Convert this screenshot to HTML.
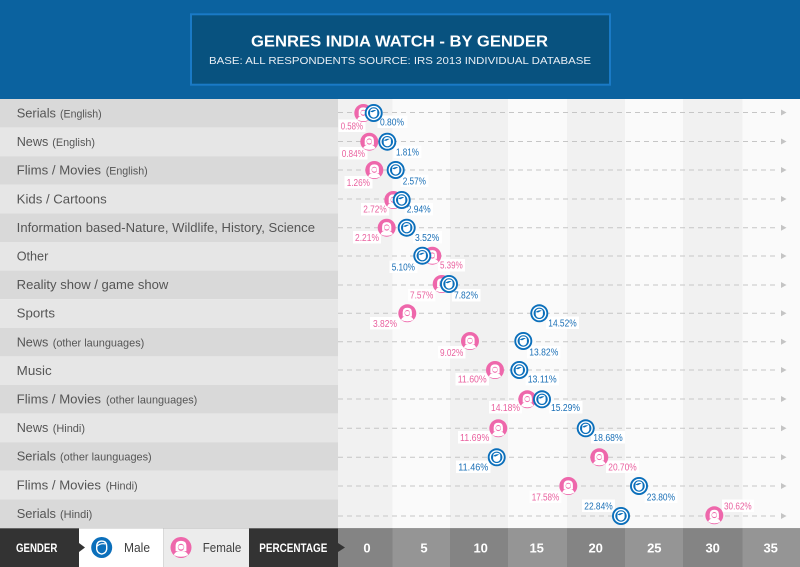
<!DOCTYPE html>
<html>
<head>
<meta charset="utf-8">
<style>
html,body{margin:0;padding:0;background:#fff;}
svg{display:block;}
text{font-family:"Liberation Sans",Arial,sans-serif;}
</style>
</head>
<body>
<svg width="800" height="567" viewBox="0 0 800 567" xmlns="http://www.w3.org/2000/svg">
<defs>
  <g id="male">
    <circle r="9" fill="#0b6fbb"/>
    <circle r="6.4" fill="none" stroke="#fff" stroke-width="1.4"/>
    <path d="M-3.6,-1.8 Q-3.2,-4.6 0,-4.6 Q3.4,-4.6 3.6,-1.6 L3.6,1.4 Q3,4.2 0,4.6 Q-3,4.2 -3.6,1.4 Z" fill="#fff"/>
    <path d="M-3.6,-1.2 Q-1,-3.6 2.6,-2.8 L-1.2,-0.8 Z" fill="#0b6fbb"/>
  </g>
  <g id="female">
    <circle r="9" fill="#ee67ab"/>
    <path d="M-4.6,3.2 L-4.6,-1.2 Q-4.6,-5.6 0,-5.6 Q4.6,-5.6 4.6,-1.2 L4.6,3.2 Z" fill="#fff"/>
    <ellipse cx="0" cy="-0.2" rx="2.7" ry="3.1" fill="#ee67ab"/>
    <path d="M-2.2,-1.5 Q0,-3.2 2.2,-1.5 L2.2,0.8 Q0,2.8 -2.2,0.8 Z" fill="#fff"/>
    <path d="M-6.2,6.6 Q-5,3.4 -1.6,3 L1.6,3 Q5,3.4 6.2,6.6 Q0,9.6 -6.2,6.6 Z" fill="#fff"/>
  </g>
  <g id="maleL">
    <circle r="10.5" fill="#0b6fbb"/>
    <path d="M-5,-1.5 Q-4.6,-6.4 0,-6.4 Q4.8,-6.4 5,-1.4 L5,1.8 Q4.2,6 0,6.6 Q-4.2,6 -5,1.8 Z" fill="none" stroke="#fff" stroke-width="1.4"/>
    <path d="M-5,-1 Q-1.4,-4.6 3.6,-3.6" fill="none" stroke="#fff" stroke-width="1.2"/>
  </g>
  <g id="femaleL">
    <circle r="10.5" fill="#ee67ab"/>
    <path d="M-5.4,3.6 L-5.4,-1.4 Q-5.4,-6.6 0,-6.6 Q5.4,-6.6 5.4,-1.4 L5.4,3.6 Z" fill="#fff"/>
    <ellipse cx="0" cy="-0.2" rx="3.2" ry="3.6" fill="#ee67ab"/>
    <path d="M-2.6,-1.6 Q0,-3.6 2.6,-1.6 L2.6,0.9 Q0,3.2 -2.6,0.9 Z" fill="#fff"/>
    <path d="M-7.2,7.6 Q-6,4 -1.8,3.6 L1.8,3.6 Q6,4 7.2,7.6 Q0,11 -7.2,7.6 Z" fill="#fff"/>
  </g>
</defs>

<!-- header -->
<rect x="0" y="0" width="800" height="99" fill="#0b629f"/>
<rect x="191" y="14.3" width="419" height="70.4" fill="#08527f" stroke="#1a7ac6" stroke-width="2"/>
<text x="251" y="46.5" font-size="16" font-weight="bold" fill="#fff" textLength="297" lengthAdjust="spacingAndGlyphs">GENRES INDIA WATCH - BY GENDER</text>
<text x="209" y="64" font-size="10.5" fill="#e8eef4" textLength="382" lengthAdjust="spacingAndGlyphs">BASE: ALL RESPONDENTS SOURCE: IRS 2013 INDIVIDUAL DATABASE</text>

<!-- left label rows -->
<g>
<rect x="0" y="99" width="338" height="28.6" fill="#d9d9d9"/>
<rect x="0" y="127.6" width="338" height="28.6" fill="#e6e6e6"/>
<rect x="0" y="156.2" width="338" height="28.6" fill="#d9d9d9"/>
<rect x="0" y="184.8" width="338" height="28.6" fill="#e6e6e6"/>
<rect x="0" y="213.4" width="338" height="28.6" fill="#d9d9d9"/>
<rect x="0" y="242" width="338" height="28.6" fill="#e6e6e6"/>
<rect x="0" y="270.6" width="338" height="28.6" fill="#d9d9d9"/>
<rect x="0" y="299.2" width="338" height="28.6" fill="#e6e6e6"/>
<rect x="0" y="327.8" width="338" height="28.6" fill="#d9d9d9"/>
<rect x="0" y="356.4" width="338" height="28.6" fill="#e6e6e6"/>
<rect x="0" y="385" width="338" height="28.6" fill="#d9d9d9"/>
<rect x="0" y="413.6" width="338" height="28.6" fill="#e6e6e6"/>
<rect x="0" y="442.2" width="338" height="28.6" fill="#d9d9d9"/>
<rect x="0" y="470.8" width="338" height="28.6" fill="#e6e6e6"/>
<rect x="0" y="499.4" width="338" height="29" fill="#d9d9d9"/>
</g>
<g fill="#555555">
<text x="16.7" y="117.5" font-size="13" textLength="39.3" lengthAdjust="spacingAndGlyphs">Serials</text>
<text x="60" y="117.5" font-size="11" textLength="41.7" lengthAdjust="spacingAndGlyphs">(English)</text>
<text x="16.7" y="146.1" font-size="13" textLength="31.6" lengthAdjust="spacingAndGlyphs">News</text>
<text x="52.3" y="146.1" font-size="11" textLength="42.7" lengthAdjust="spacingAndGlyphs">(English)</text>
<text x="16.7" y="174.7" font-size="13" textLength="84.3" lengthAdjust="spacingAndGlyphs">Flims / Movies</text>
<text x="105.7" y="174.7" font-size="11" textLength="42" lengthAdjust="spacingAndGlyphs">(English)</text>
<text x="16.7" y="203.3" font-size="13" textLength="90" lengthAdjust="spacingAndGlyphs">Kids / Cartoons</text>
<text x="16.7" y="231.9" font-size="13" textLength="298.3" lengthAdjust="spacingAndGlyphs">Information based-Nature, Wildlife, History, Science</text>
<text x="16.7" y="260.5" font-size="13" textLength="31.6" lengthAdjust="spacingAndGlyphs">Other</text>
<text x="16.7" y="289.1" font-size="13" textLength="151.6" lengthAdjust="spacingAndGlyphs">Reality show / game show</text>
<text x="16.7" y="317.7" font-size="13" textLength="38.3" lengthAdjust="spacingAndGlyphs">Sports</text>
<text x="16.7" y="346.3" font-size="13" textLength="31.6" lengthAdjust="spacingAndGlyphs">News</text>
<text x="52.7" y="346.3" font-size="11" textLength="91.6" lengthAdjust="spacingAndGlyphs">(other launguages)</text>
<text x="16.7" y="374.9" font-size="13" textLength="35" lengthAdjust="spacingAndGlyphs">Music</text>
<text x="16.7" y="403.5" font-size="13" textLength="84.3" lengthAdjust="spacingAndGlyphs">Flims / Movies</text>
<text x="106" y="403.5" font-size="11" textLength="91.3" lengthAdjust="spacingAndGlyphs">(other launguages)</text>
<text x="16.7" y="432.1" font-size="13" textLength="31.6" lengthAdjust="spacingAndGlyphs">News</text>
<text x="52.7" y="432.1" font-size="11" textLength="32.3" lengthAdjust="spacingAndGlyphs">(Hindi)</text>
<text x="16.7" y="460.7" font-size="13" textLength="39.3" lengthAdjust="spacingAndGlyphs">Serials</text>
<text x="60" y="460.7" font-size="11" textLength="91.7" lengthAdjust="spacingAndGlyphs">(other launguages)</text>
<text x="16.7" y="489.3" font-size="13" textLength="84.3" lengthAdjust="spacingAndGlyphs">Flims / Movies</text>
<text x="105.7" y="489.3" font-size="11" textLength="32" lengthAdjust="spacingAndGlyphs">(Hindi)</text>
<text x="16.7" y="517.9" font-size="13" textLength="39.3" lengthAdjust="spacingAndGlyphs">Serials</text>
<text x="60" y="517.9" font-size="11" textLength="32.3" lengthAdjust="spacingAndGlyphs">(Hindi)</text>
</g>

<!-- chart column backgrounds -->
<rect x="338" y="99" width="54.5" height="429.5" fill="#f1f1f1"/>
<rect x="392.5" y="99" width="57.5" height="429.5" fill="#fafafa"/>
<rect x="450" y="99" width="58" height="429.5" fill="#f1f1f1"/>
<rect x="508" y="99" width="59" height="429.5" fill="#fafafa"/>
<rect x="567" y="99" width="58" height="429.5" fill="#f1f1f1"/>
<rect x="625" y="99" width="58" height="429.5" fill="#fafafa"/>
<rect x="683" y="99" width="59.5" height="429.5" fill="#f1f1f1"/>
<rect x="742.5" y="99" width="57.5" height="429.5" fill="#fafafa"/>

<!-- dashed lines -->
<g stroke="#c6c6c6" stroke-width="1" stroke-dasharray="5,4">
<line x1="338" y1="112.5" x2="778" y2="112.5"/>
<line x1="338" y1="141.5" x2="778" y2="141.5"/>
<line x1="338" y1="170" x2="778" y2="170"/>
<line x1="338" y1="199" x2="778" y2="199"/>
<line x1="338" y1="227.7" x2="778" y2="227.7"/>
<line x1="338" y1="256" x2="778" y2="256"/>
<line x1="338" y1="285" x2="778" y2="285"/>
<line x1="338" y1="313.3" x2="778" y2="313.3"/>
<line x1="338" y1="341.7" x2="778" y2="341.7"/>
<line x1="338" y1="370" x2="778" y2="370"/>
<line x1="338" y1="399" x2="778" y2="399"/>
<line x1="338" y1="428.3" x2="778" y2="428.3"/>
<line x1="338" y1="457.3" x2="778" y2="457.3"/>
<line x1="338" y1="486" x2="778" y2="486"/>
<line x1="338" y1="516" x2="778" y2="516"/>
</g>
<g fill="#c4c4c4">
<path d="M781,109.5 L786.5,112.5 L781,115.5 Z"/>
<path d="M781,138.5 L786.5,141.5 L781,144.5 Z"/>
<path d="M781,167 L786.5,170 L781,173 Z"/>
<path d="M781,196 L786.5,199 L781,202 Z"/>
<path d="M781,224.7 L786.5,227.7 L781,230.7 Z"/>
<path d="M781,253 L786.5,256 L781,259 Z"/>
<path d="M781,282 L786.5,285 L781,288 Z"/>
<path d="M781,310.3 L786.5,313.3 L781,316.3 Z"/>
<path d="M781,338.7 L786.5,341.7 L781,344.7 Z"/>
<path d="M781,367 L786.5,370 L781,373 Z"/>
<path d="M781,396 L786.5,399 L781,402 Z"/>
<path d="M781,425.3 L786.5,428.3 L781,431.3 Z"/>
<path d="M781,454.3 L786.5,457.3 L781,460.3 Z"/>
<path d="M781,483 L786.5,486 L781,489 Z"/>
<path d="M781,513 L786.5,516 L781,519 Z"/>
</g>

<!-- value label boxes -->
<g fill="#ffffff">
<rect x="338.5" y="119.5" width="27" height="12.5"/>
<rect x="377.5" y="115.5" width="30" height="12.5"/>
<rect x="339.5" y="147" width="28" height="12.5"/>
<rect x="393.5" y="145.5" width="28" height="12.5"/>
<rect x="344.5" y="176" width="28" height="12.5"/>
<rect x="400.5" y="174.5" width="28" height="12.5"/>
<rect x="361" y="203" width="28" height="12.5"/>
<rect x="404.5" y="203" width="28.5" height="12.5"/>
<rect x="353" y="231" width="28" height="12.5"/>
<rect x="413" y="231" width="29" height="12.5"/>
<rect x="389.5" y="260.5" width="28" height="12.5"/>
<rect x="438" y="259" width="27" height="12.5"/>
<rect x="408" y="289" width="27.5" height="12.5"/>
<rect x="452" y="289" width="28.5" height="12.5"/>
<rect x="370" y="317" width="30" height="12.5"/>
<rect x="546" y="316.5" width="33" height="12.5"/>
<rect x="438" y="346" width="27.5" height="12.5"/>
<rect x="527" y="346" width="33.5" height="12.5"/>
<rect x="455.5" y="373" width="33.5" height="12.5"/>
<rect x="525.5" y="373" width="33.5" height="12.5"/>
<rect x="489" y="401" width="33" height="12.5"/>
<rect x="549" y="401" width="33.5" height="12.5"/>
<rect x="458" y="431" width="33.5" height="12.5"/>
<rect x="591" y="431" width="34" height="12.5"/>
<rect x="456" y="460.5" width="34.5" height="12.5"/>
<rect x="606" y="460.5" width="33" height="12.5"/>
<rect x="529.5" y="490.5" width="32" height="12.5"/>
<rect x="644.5" y="490.5" width="33" height="12.5"/>
<rect x="582" y="499.5" width="33" height="12.5"/>
<rect x="722" y="499.5" width="32" height="12.5"/>
</g>
<g font-size="10" fill="#e9619f">
<text x="340.7" y="129.3" textLength="22.3" lengthAdjust="spacingAndGlyphs">0.58%</text>
<text x="341.7" y="156.9" textLength="23.3" lengthAdjust="spacingAndGlyphs">0.84%</text>
<text x="346.7" y="185.9" textLength="23.3" lengthAdjust="spacingAndGlyphs">1.26%</text>
<text x="363.3" y="212.6" textLength="23.4" lengthAdjust="spacingAndGlyphs">2.72%</text>
<text x="355" y="240.9" textLength="24" lengthAdjust="spacingAndGlyphs">2.21%</text>
<text x="440" y="268.6" textLength="22.7" lengthAdjust="spacingAndGlyphs">5.39%</text>
<text x="410" y="298.6" textLength="23.3" lengthAdjust="spacingAndGlyphs">7.57%</text>
<text x="373" y="326.9" textLength="24" lengthAdjust="spacingAndGlyphs">3.82%</text>
<text x="440" y="355.9" textLength="23.3" lengthAdjust="spacingAndGlyphs">9.02%</text>
<text x="457.7" y="382.6" textLength="29" lengthAdjust="spacingAndGlyphs">11.60%</text>
<text x="491" y="410.9" textLength="29" lengthAdjust="spacingAndGlyphs">14.18%</text>
<text x="460" y="440.9" textLength="29.3" lengthAdjust="spacingAndGlyphs">11.69%</text>
<text x="608.3" y="470.3" textLength="28.4" lengthAdjust="spacingAndGlyphs">20.70%</text>
<text x="531.7" y="500.3" textLength="27.6" lengthAdjust="spacingAndGlyphs">17.58%</text>
<text x="724" y="509.3" textLength="27.7" lengthAdjust="spacingAndGlyphs">30.62%</text>
</g>
<g font-size="10" fill="#1a6fb6">
<text x="380" y="125.3" textLength="24" lengthAdjust="spacingAndGlyphs">0.80%</text>
<text x="396" y="155.3" textLength="23" lengthAdjust="spacingAndGlyphs">1.81%</text>
<text x="402.7" y="184.3" textLength="23.3" lengthAdjust="spacingAndGlyphs">2.57%</text>
<text x="406.7" y="212.6" textLength="24" lengthAdjust="spacingAndGlyphs">2.94%</text>
<text x="415" y="240.9" textLength="24.3" lengthAdjust="spacingAndGlyphs">3.52%</text>
<text x="391.7" y="270.3" textLength="23.3" lengthAdjust="spacingAndGlyphs">5.10%</text>
<text x="454" y="298.6" textLength="24" lengthAdjust="spacingAndGlyphs">7.82%</text>
<text x="548.3" y="326.3" textLength="28.4" lengthAdjust="spacingAndGlyphs">14.52%</text>
<text x="529.3" y="355.6" textLength="29" lengthAdjust="spacingAndGlyphs">13.82%</text>
<text x="527.7" y="382.6" textLength="29" lengthAdjust="spacingAndGlyphs">13.11%</text>
<text x="551" y="410.9" textLength="29" lengthAdjust="spacingAndGlyphs">15.29%</text>
<text x="593.3" y="440.9" textLength="29.4" lengthAdjust="spacingAndGlyphs">18.68%</text>
<text x="458.3" y="470.3" textLength="30" lengthAdjust="spacingAndGlyphs">11.46%</text>
<text x="646.7" y="500.3" textLength="28.3" lengthAdjust="spacingAndGlyphs">23.80%</text>
<text x="584.3" y="509.3" textLength="28.4" lengthAdjust="spacingAndGlyphs">22.84%</text>
</g>

<!-- female markers -->
<use href="#female" x="363.3" y="113"/>
<use href="#female" x="369.3" y="141.7"/>
<use href="#female" x="374.3" y="170"/>
<use href="#female" x="393.3" y="200"/>
<use href="#female" x="386.7" y="227.7"/>
<use href="#female" x="432.3" y="255.7"/>
<use href="#female" x="441.7" y="284"/>
<use href="#female" x="407.3" y="313.3"/>
<use href="#female" x="470" y="341"/>
<use href="#female" x="495" y="370"/>
<use href="#female" x="527.3" y="399.3"/>
<use href="#female" x="498.3" y="428.3"/>
<use href="#female" x="599.3" y="457.3"/>
<use href="#female" x="568.3" y="486"/>
<use href="#female" x="714.3" y="515.3"/>
<!-- male markers -->
<use href="#male" x="373.7" y="113"/>
<use href="#male" x="387.3" y="141.7"/>
<use href="#male" x="395.7" y="170"/>
<use href="#male" x="401.7" y="200"/>
<use href="#male" x="406.7" y="227.7"/>
<use href="#male" x="422.3" y="255.7"/>
<use href="#male" x="449" y="284"/>
<use href="#male" x="539.3" y="313.3"/>
<use href="#male" x="523.3" y="341"/>
<use href="#male" x="519.3" y="370"/>
<use href="#male" x="542" y="399.3"/>
<use href="#male" x="585.7" y="428.3"/>
<use href="#male" x="496.7" y="457.3"/>
<use href="#male" x="639" y="486"/>
<use href="#male" x="621" y="516"/>

<!-- bottom bar -->
<rect x="0" y="528.3" width="800" height="38.7" fill="#333333"/>
<rect x="79" y="528.3" width="84.3" height="38.7" fill="#ffffff"/>
<rect x="163.3" y="528.3" width="85.7" height="38.7" fill="#ececec"/>
<path d="M79,543 L85,547.5 L79,552 Z" fill="#333333"/>
<rect x="338" y="528.3" width="54.5" height="38.7" fill="#848484"/>
<rect x="392.5" y="528.3" width="57.5" height="38.7" fill="#959595"/>
<rect x="450" y="528.3" width="58" height="38.7" fill="#848484"/>
<rect x="508" y="528.3" width="59" height="38.7" fill="#959595"/>
<rect x="567" y="528.3" width="58" height="38.7" fill="#848484"/>
<rect x="625" y="528.3" width="58" height="38.7" fill="#959595"/>
<rect x="683" y="528.3" width="59.5" height="38.7" fill="#848484"/>
<rect x="742.5" y="528.3" width="57.5" height="38.7" fill="#959595"/>
<path d="M338,543 L345,547.5 L338,552 Z" fill="#333333"/>

<text x="16" y="551.8" font-size="12" font-weight="bold" fill="#fff" textLength="41.3" lengthAdjust="spacingAndGlyphs">GENDER</text>
<text x="259.3" y="551.8" font-size="12" font-weight="bold" fill="#fff" textLength="68" lengthAdjust="spacingAndGlyphs">PERCENTAGE</text>
<use href="#maleL" x="101.7" y="547.5"/>
<text x="124" y="552" font-size="13" fill="#404040" textLength="26" lengthAdjust="spacingAndGlyphs">Male</text>
<use href="#femaleL" x="181" y="547.5"/>
<text x="202.7" y="552" font-size="13" fill="#404040" textLength="38.6" lengthAdjust="spacingAndGlyphs">Female</text>

<g font-size="13" font-weight="bold" fill="#ffffff" text-anchor="middle">
<text x="367" y="552.3">0</text>
<text x="424" y="552.3">5</text>
<text x="480.7" y="552.3">10</text>
<text x="536.7" y="552.3">15</text>
<text x="595.7" y="552.3">20</text>
<text x="654.3" y="552.3">25</text>
<text x="712.7" y="552.3">30</text>
<text x="770.7" y="552.3">35</text>
</g>
</svg>
</body>
</html>
